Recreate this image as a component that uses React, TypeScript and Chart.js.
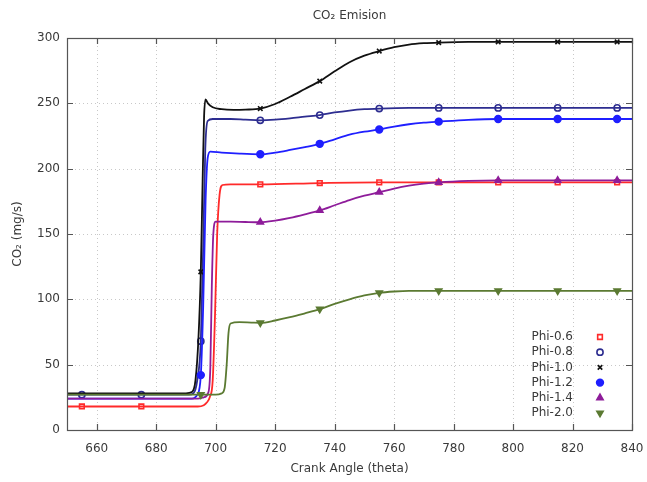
import React, { useEffect, useRef } from "react";
import { Chart, registerables } from "chart.js";
import { drawPoint } from "chart.js/helpers";

Chart.register(...registerables);

// ---- data ----
const seriesNames = ["Phi-0.6", "Phi-0.8", "Phi-1.0", "Phi-1.2", "Phi-1.4", "Phi-2.0"];
const xTickValues = [660, 680, 700, 720, 740, 760, 780, 800, 820, 840];
const yTickValues = [0, 50, 100, 150, 200, 250, 300];

// smooth curves: [crank angle, CO2]
const curvePhi06 = [[650,18],[694,18],[696,19],[697,21],[698,25],[699,38],[699.8,90],[700.5,150],[701.3,180],[702.3,187.5],[705,188],[715,188],[735,189],[755,189.5],[840,189.5]];
const curvePhi08 = [[650,27],[691,27],[692.5,28],[693.8,38],[695,68],[695.8,140],[696.5,215],[697.3,236.5],[699,238],[705,238],[710,237.5],[715,237],[720,237.5],[725,238.5],[730,239.8],[735,241],[740,243],[745,244.5],[750,245.5],[755,246],[765,246.5],[840,246.5]];
const curvePhi10 = [[650,28],[690,28],[692,29],[693.2,38],[694.2,70],[695,121],[695.6,190],[696.1,240],[696.6,253],[697.4,250],[699,247],[702,245.5],[706,245],[710,245.2],[715,246],[720,249.5],[725,255],[730,261],[735,267],[740,274.5],[745,281.5],[750,286.5],[755,290],[760,293],[765,295],[770,296],[775,296.5],[785,297],[840,297]];
const curvePhi12 = [[650,24],[692,24],[693.8,27],[695,42],[695.8,95],[696.6,175],[697.3,208],[698.2,213],[702,212.3],[708,211.5],[715,211],[720,212.3],[725,214.3],[730,216.5],[735,219],[740,222.5],[745,226],[750,228.3],[755,230],[760,232.2],[765,234],[770,235.2],[775,236],[785,237.4],[795,238],[840,238]];
const curvePhi14 = [[650,24],[694,24],[696,25],[697.4,28],[698.2,48],[698.7,110],[699.2,150],[700,159.5],[705,159.5],[710,159.2],[715,159],[720,160.2],[725,162.3],[730,165],[735,168],[740,172],[745,176],[750,179.3],[755,182],[760,184.8],[765,187],[770,188.5],[775,189.5],[785,190.6],[795,191],[840,191]];
const curvePhi20 = [[650,27],[700,27],[702,28],[703,32],[703.7,50],[704.3,74],[705,81.5],[708,82.5],[712,82.2],[715,82],[720,83.8],[725,86.3],[730,89.3],[735,92.5],[740,96.5],[745,100],[750,103],[755,105],[760,106],[765,106.5],[840,106.5]];

// markers drawn on each curve: [crank angle, CO2]
const markPhi06 = [[655,18],[675,18],[715,188],[735,189],[755,189.5],[775,189.5],[795,189.5],[815,189.5],[835,189.5]];
const markPhi08 = [[655,27],[675,27],[695,68],[715,237],[735,241],[755,246],[775,246.5],[795,246.5],[815,246.5],[835,246.5]];
const markPhi10 = [[695,121],[715,246],[735,267],[755,290],[775,296.5],[795,297],[815,297],[835,297]];
const markPhi12 = [[695,42],[715,211],[735,219],[755,230],[775,236],[795,238],[815,238],[835,238]];
const markPhi14 = [[715,159],[735,168],[755,182],[775,189.5],[795,191],[815,191],[835,191]];
const markPhi20 = [[695,27],[715,82],[735,92.5],[755,105],[775,106.5],[795,106.5],[815,106.5],[835,106.5]];

const curves = [curvePhi06, curvePhi08, curvePhi10, curvePhi12, curvePhi14, curvePhi20];
const marks = [markPhi06, markPhi08, markPhi10, markPhi12, markPhi14, markPhi20];

// ---- styles ----
const colors = ["#ff2a2a", "#2d2d90", "#111111", "#1f1fff", "#8e1c9a", "#5b7a32"];
const markerStyles = [
  { pointStyle: "rect", radius: 3.3, fill: false, rotation: 0 },
  { pointStyle: "circle", radius: 3.1, fill: false, rotation: 0 },
  { pointStyle: "crossRot", radius: 3.2, fill: false, rotation: 0 },
  { pointStyle: "circle", radius: 3.4, fill: true, rotation: 0 },
  { pointStyle: "triangle", radius: 3.6, fill: true, rotation: 0 },
  { pointStyle: "triangle", radius: 3.6, fill: true, rotation: 180 },
];
const FONT = "'DejaVu Sans', sans-serif";
const TEXT = "#3a3a3a";

const decorPlugin = {
  id: "decor",
  beforeDatasetsDraw(chart: any) {
    const { ctx, chartArea: a, scales } = chart;
    ctx.save();
    ctx.strokeStyle = "#c8c8c8";
    ctx.lineWidth = 1;
    ctx.setLineDash([1, 3]);
    xTickValues.forEach((v) => {
      const x = Math.round(scales.x.getPixelForValue(v)) + 0.5;
      if (x <= a.left + 1 || x >= a.right - 1) return;
      ctx.beginPath();
      ctx.moveTo(x, a.top);
      ctx.lineTo(x, a.bottom);
      ctx.stroke();
    });
    yTickValues.forEach((v) => {
      const y = Math.round(scales.y.getPixelForValue(v)) + 0.5;
      if (y <= a.top + 1 || y >= a.bottom - 1) return;
      ctx.beginPath();
      ctx.moveTo(a.left, y);
      ctx.lineTo(a.right, y);
      ctx.stroke();
    });
    ctx.restore();
  },
  afterDatasetsDraw(chart: any) {
    const { ctx, chartArea: a, scales } = chart;
    ctx.save();
    ctx.setLineDash([]);
    ctx.strokeStyle = "#555555";
    ctx.lineWidth = 1.2;
    ctx.strokeRect(Math.round(a.left) + 0.5, Math.round(a.top) + 0.5, Math.round(a.right - a.left), Math.round(a.bottom - a.top));
    const tl = 6;
    xTickValues.forEach((v) => {
      const x = Math.round(scales.x.getPixelForValue(v)) + 0.5;
      ctx.beginPath();
      ctx.moveTo(x, a.bottom);
      ctx.lineTo(x, a.bottom - tl);
      ctx.moveTo(x, a.top);
      ctx.lineTo(x, a.top + tl);
      ctx.stroke();
    });
    yTickValues.forEach((v) => {
      const y = Math.round(scales.y.getPixelForValue(v)) + 0.5;
      ctx.beginPath();
      ctx.moveTo(a.left, y);
      ctx.lineTo(a.left + tl, y);
      ctx.moveTo(a.right, y);
      ctx.lineTo(a.right - tl, y);
      ctx.stroke();
    });

    // legend (gnuplot style: text, then marker)
    ctx.font = `12px ${FONT}`;
    ctx.textAlign = "right";
    ctx.textBaseline = "middle";
    seriesNames.forEach((name, i) => {
      const y = 337 + i * 15.2;
      ctx.fillStyle = TEXT;
      ctx.fillText(name, 573, y);
      const m = markerStyles[i];
      ctx.strokeStyle = colors[i];
      ctx.fillStyle = m.fill ? colors[i] : "rgba(0,0,0,0)";
      ctx.lineWidth = 1.6;
      drawPoint(ctx, { pointStyle: m.pointStyle, radius: m.radius, borderWidth: 1.6, rotation: m.rotation } as any, 600, y);
    });
    ctx.restore();
  },
  afterDraw(chart: any) {
    const { ctx, chartArea: a } = chart;
    ctx.save();
    ctx.fillStyle = TEXT;
    ctx.font = `12px ${FONT}`;
    ctx.textAlign = "center";
    ctx.textBaseline = "middle";
    const cx = (a.left + a.right) / 2;
    ctx.fillText("CO₂ Emision", cx, 16);
    ctx.fillText("Crank Angle (theta)", cx, 469);
    ctx.translate(18, (a.top + a.bottom) / 2);
    ctx.rotate(-Math.PI / 2);
    ctx.fillText("CO₂ (mg/s)", 0, 0);
    ctx.restore();
  },
};

export default function App() {
  const ref = useRef<HTMLCanvasElement>(null);
  useEffect(() => {
    if (!ref.current) return;
    const datasets: any[] = [];
    seriesNames.forEach((name, i) => {
      datasets.push({
        label: name + " curve",
        data: curves[i].map(([x, y]) => ({ x, y })),
        borderColor: colors[i],
        backgroundColor: colors[i],
        borderWidth: 1.8,
        pointRadius: 0,
        cubicInterpolationMode: "monotone",
        fill: false,
        order: 10 - i,
      });
      const m = markerStyles[i];
      datasets.push({
        label: name,
        data: marks[i].map(([x, y]) => ({ x, y })),
        showLine: false,
        borderColor: colors[i],
        backgroundColor: m.fill ? colors[i] : "rgba(0,0,0,0)",
        pointStyle: m.pointStyle,
        pointRadius: m.radius,
        pointRotation: m.rotation,
        pointBorderWidth: 1.6,
        order: 10 - i,
      });
    });
    const chart = new Chart(ref.current, {
      type: "line",
      data: { datasets },
      options: {
        animation: false,
        responsive: false,
        devicePixelRatio: 1,
        layout: { padding: { top: 38, right: 15, left: 0, bottom: 0 } },
        plugins: { legend: { display: false }, tooltip: { enabled: false }, title: { display: false } },
        scales: {
          x: {
            type: "linear",
            min: 650,
            max: 840,
            afterBuildTicks: (s: any) => { s.ticks = xTickValues.map((v) => ({ value: v })); },
            afterFit: (s: any) => { s.height = 52; s.paddingLeft = 0; s.paddingRight = 0; },
            grid: { display: false, drawTicks: false },
            border: { display: false },
            ticks: { color: TEXT, font: { family: FONT, size: 12 }, padding: 12, maxRotation: 0, autoSkip: false },
          },
          y: {
            type: "linear",
            min: 0,
            max: 300,
            afterBuildTicks: (s: any) => { s.ticks = yTickValues.map((v) => ({ value: v })); },
            afterFit: (s: any) => { s.width = 67; s.paddingTop = 0; s.paddingBottom = 0; },
            grid: { display: false, drawTicks: false },
            border: { display: false },
            ticks: { color: TEXT, font: { family: FONT, size: 12 }, padding: 7, autoSkip: false },
          },
        },
      },
      plugins: [decorPlugin],
    } as any);
    return () => chart.destroy();
  }, []);
  return (
    <div style={{ position: "fixed", left: 0, top: 0, width: 647, height: 482, background: "#fff" }}>
      <canvas ref={ref} width={647} height={482} style={{ display: "block" }} />
    </div>
  );
}
